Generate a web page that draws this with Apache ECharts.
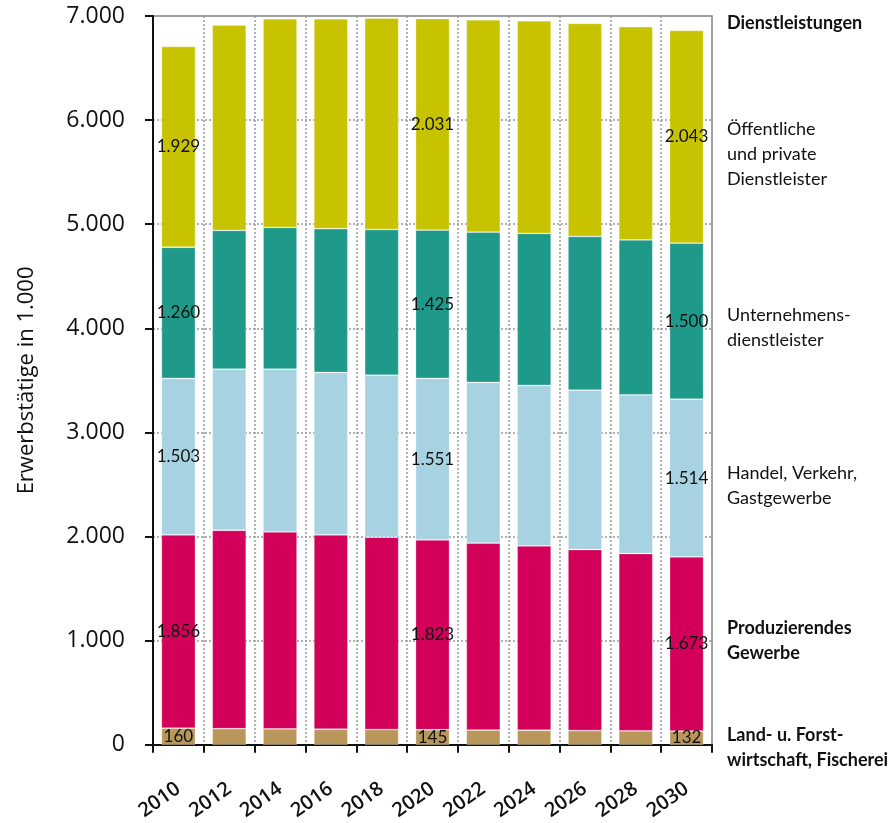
<!DOCTYPE html>
<html><head><meta charset="utf-8">
<script src="https://cdn.jsdelivr.net/npm/echarts@6/dist/echarts.min.js"></script>
<style>html,body{margin:0;padding:0;background:#fff}#c{width:895px;height:823px}</style>
</head><body><div id="c"></div>
<script>
const years = ['2010','2012','2014','2016','2018','2020','2022','2024','2026','2028','2030'];
const landForst = [160,155,153,150,147,145,142,140,137,135,132];
const produzierend = [1856,1906,1892,1866,1847,1823,1795,1771,1739,1703,1673];
const handel = [1503,1547,1563,1560,1556,1551,1543,1541,1531,1524,1514];
const unternehmens = [1260,1333,1362,1381,1400,1425,1445,1460,1476,1487,1500];
const oeffentlich = [1929,1972,2003,2016,2030,2031,2039,2042,2046,2048,2043];
const labelledYears = ['2010','2020','2030'];
const yTicks = [0,1000,2000,3000,4000,5000,6000,7000];

const fmt = v => v >= 1000 ? Math.floor(v/1000) + '.' + String(v%1000).padStart(3,'0') : String(v);

function mk(name, data, color) {
  return {
    name, type: 'bar', stack: 'total', data, barWidth: 34,
    itemStyle: { color, borderColor: 'rgba(255,255,255,0.35)', borderWidth: 0.8 },
    label: {
      show: true, position: 'inside', color: '#111', fontSize: 17,
      fontFamily: 'Lato',
      formatter: p => labelledYears.includes(p.name) ? fmt(p.value) : ''
    }
  };
}

const chart = echarts.init(document.getElementById('c'));
const rightX = 727;
const txt = (y, text, bold) => ({
  type: 'text', left: rightX, top: y,
  style: { text, fontSize: 18, fontFamily: 'Lato', fontWeight: bold ? 'bold' : 'normal', fill: '#111', lineHeight: 25 }
});
chart.setOption({
  animation: false,
  grid: { left: 153, right: 183, top: 16, bottom: 77, show: true, borderColor: '#8a8a8a', borderWidth: 1.5 },
  xAxis: {
    type: 'category', data: years,
    axisLine: { lineStyle: { color: '#111', width: 2 } },
    axisTick: { show: true, length: 8, lineStyle: { color: '#111', width: 2 } },
    axisLabel: { rotate: 35, margin: 42, fontSize: 20, fontWeight: 600, color: '#111', fontFamily: 'Open Sans' },
    splitLine: { show: true, lineStyle: { color: '#999', type: [2,2], width: 1.5 } }
  },
  yAxis: {
    type: 'value', min: 0, max: 7000, interval: 1000,
    name: 'Erwerbstätige in 1.000', nameLocation: 'middle', nameGap: 115,
    nameTextStyle: { fontSize: 22, color: '#111', fontFamily: 'Open Sans' },
    axisLine: { show: true, lineStyle: { color: '#111', width: 2 } },
    axisTick: { show: true, length: 8, lineStyle: { color: '#111', width: 2 } },
    axisLabel: { fontSize: 23, color: '#111', margin: 28, fontFamily: 'Open Sans',
      formatter: v => yTicks.includes(v) ? fmt(v) : '' },
    splitLine: { show: true, lineStyle: { color: '#999', type: [2,2], width: 1.5 } }
  },
  series: [
    mk('Land- u. Forstwirtschaft, Fischerei', landForst, '#B9975B'),
    mk('Produzierendes Gewerbe', produzierend, '#D3005A'),
    mk('Handel, Verkehr, Gastgewerbe', handel, '#A6D2E1'),
    mk('Unternehmensdienstleister', unternehmens, '#1F9A8A'),
    mk('Öffentliche und private Dienstleister', oeffentlich, '#C8C300')
  ],
  graphic: [
    txt(11, 'Dienstleistungen', true),
    txt(117, 'Öffentliche\nund private\nDienstleister', false),
    txt(303, 'Unternehmens-\ndienstleister', false),
    txt(461, 'Handel, Verkehr,\nGastgewerbe', false),
    txt(616, 'Produzierendes\nGewerbe', true),
    txt(723, 'Land- u. Forst-\nwirtschaft, Fischerei', true)
  ]
});
</script></body></html>
